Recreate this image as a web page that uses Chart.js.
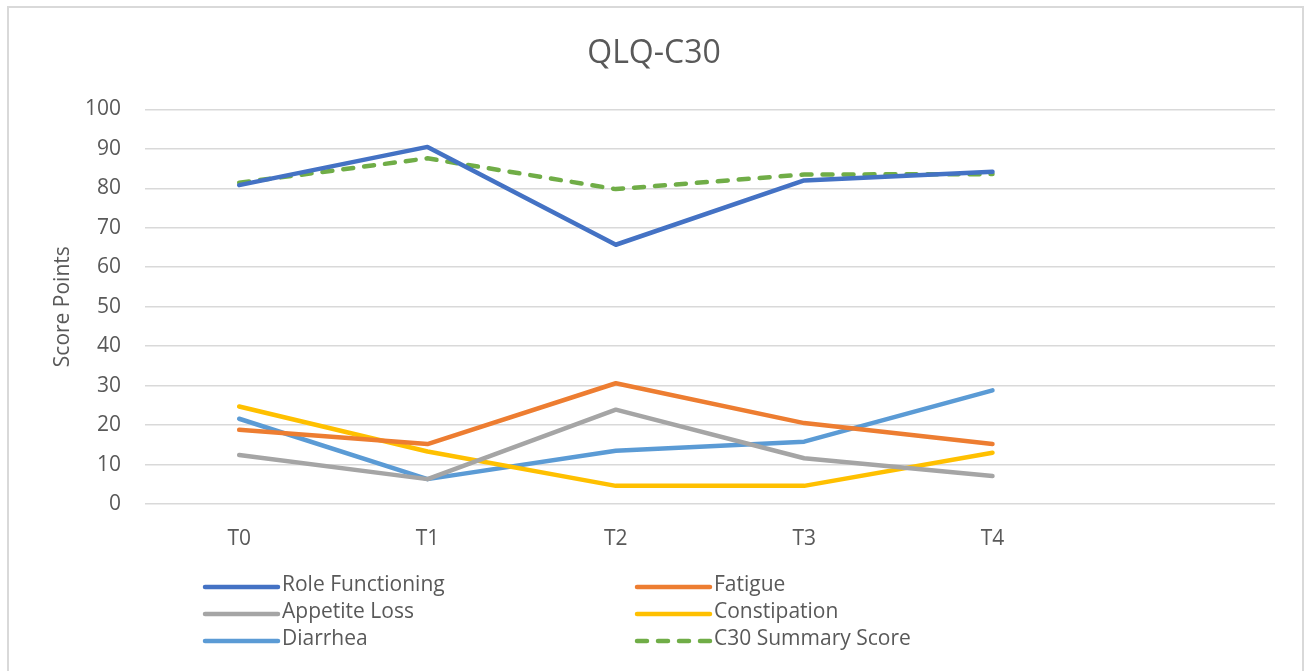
<!DOCTYPE html>
<html>
<head>
    <title>QLQ-C30</title>
    <script src="https://cdn.jsdelivr.net/npm/chart.js"></script>
    <style>
        body { margin: 0; background: #fff; }
        #wrap { position: relative; width: 1308px; height: 671px; }
        #frame { position: absolute; left: 7px; top: 6px; width: 1297px; height: 700px; border: 2px solid #d9d9d9; box-sizing: border-box; }
        #qlq_chart { position: absolute; left: 0; top: 0; }
    </style>
</head>
<body>

<div id="wrap">
    <div id="frame"></div>
    <canvas id="qlq_chart" width="1308" height="671"></canvas>
</div>

<script>
// time points (last slot empty, like the original sheet)
const timepoints = ['T0', 'T1', 'T2', 'T3', 'T4', ''];
const yTicks = [0, 10, 20, 30, 40, 50, 60, 70, 80, 90, 100];

const roleFunctioning = [80.8, 90.5, 65.7, 82.0, 84.2];
const fatigue = [18.8, 15.2, 30.6, 20.5, 15.2];
const appetiteLoss = [12.4, 6.3, 23.9, 11.6, 7.1];
const constipation = [24.7, 13.3, 4.6, 4.6, 13.0];
const diarrhea = [21.6, 6.3, 13.5, 15.8, 28.8];
const c30Summary = [81.4, 87.6, 79.8, 83.5, 83.6];

const FONT = "'Open Sans', 'DejaVu Sans', sans-serif";
const TEXT = '#595959';

// legend drawn below the axis in two columns, like the excel one
const gridLegend = {
    id: 'gridLegend',
    afterDraw(chart) {
        const ctx = chart.ctx;
        const colX = [203, 635];
        const rowY = [587, 614, 641];
        ctx.save();
        ctx.font = '21px ' + FONT;
        ctx.textBaseline = 'middle';
        chart.data.datasets.forEach(function(ds, i) {
            const x = colX[i % 2];
            const y = rowY[Math.floor(i / 2)];
            ctx.beginPath();
            ctx.strokeStyle = ds.borderColor;
            ctx.lineWidth = 4.5;
            ctx.lineCap = 'round';
            ctx.setLineDash(ds.borderDash || []);
            ctx.moveTo(x + 2, y);
            ctx.lineTo(x + 75, y);
            ctx.stroke();
            ctx.setLineDash([]);
            ctx.fillStyle = TEXT;
            ctx.fillText(ds.label, x + 79, y - 2);
        });
        ctx.restore();
    }
};

function series(label, values, color, dash) {
    return {
        label: label,
        data: values,
        borderColor: color,
        backgroundColor: color,
        borderWidth: 4.5,
        borderDash: dash || [],
        borderCapStyle: 'round',
        borderJoinStyle: 'round',
        pointRadius: 0,
        tension: 0,
        fill: false
    };
}

document.addEventListener("DOMContentLoaded", function() {
    const ctx = document.getElementById('qlq_chart').getContext('2d');

    new Chart(ctx, {
        type: 'line',
        data: {
            labels: timepoints,
            datasets: [
                series('Role Functioning', roleFunctioning, '#4472C4'),
                series('Fatigue', fatigue, '#ED7D31'),
                series('Appetite Loss', appetiteLoss, '#A5A5A5'),
                series('Constipation', constipation, '#FFC000'),
                series('Diarrhea', diarrhea, '#5B9BD5'),
                series('C30 Summary Score', c30Summary, '#70AD47', [10, 11])
            ]
        },
        options: {
            responsive: false,
            animation: false,
            layout: {
                padding: { left: 33, right: 33, top: 0, bottom: 107 }
            },
            scales: {
                x: {
                    offset: true,
                    grid: { display: false, drawTicks: false },
                    border: { display: false },
                    ticks: {
                        color: TEXT,
                        padding: 22,
                        font: { family: FONT, size: 21 },
                        maxRotation: 0
                    },
                    afterFit: function(scale) { scale.height = 60; }
                },
                y: {
                    min: 0,
                    max: 100,
                    afterBuildTicks: function(scale) {
                        scale.ticks = yTicks.map(function(v) { return { value: v }; });
                    },
                    grid: { color: '#d9d9d9', lineWidth: 1.5, drawTicks: false },
                    border: { display: false },
                    ticks: {
                        color: TEXT,
                        padding: 24,
                        font: { family: FONT, size: 21 }
                    },
                    title: {
                        display: true,
                        text: 'Score Points',
                        color: TEXT,
                        font: { family: FONT, size: 21 },
                        padding: { top: 17, bottom: 0 }
                    },
                    afterFit: function(scale) { scale.width = 112; }
                }
            },
            plugins: {
                legend: { display: false },
                tooltip: { enabled: false },
                title: {
                    display: true,
                    text: 'QLQ-C30',
                    color: TEXT,
                    font: { family: FONT, size: 32, weight: 'normal' },
                    padding: { top: 35, bottom: 36 }
                }
            }
        },
        plugins: [gridLegend]
    });
});
</script>

</body>
</html>
